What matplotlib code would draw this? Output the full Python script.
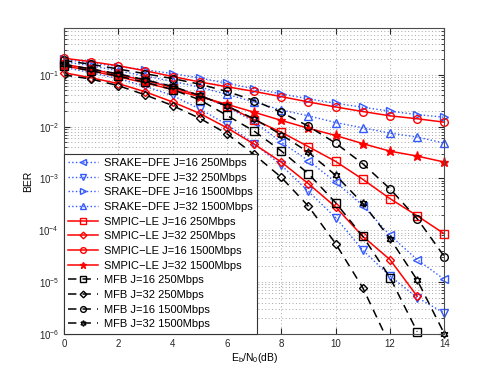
import numpy as np
import matplotlib
matplotlib.use("Agg")
import matplotlib.pyplot as plt

plt.rcParams['font.family'] = ['Liberation Sans', 'DejaVu Sans']
plt.rcParams['mathtext.fontset'] = 'custom'
plt.rcParams['mathtext.rm'] = 'Liberation Sans'
plt.rcParams['mathtext.it'] = 'Liberation Sans:italic'

# Eb/N0 (dB)
snr = np.arange(0, 15)

# SRAKE-DFE (blue dotted)
srake_j16_250 = [0.16, 0.13, 0.105, 0.08, 0.06, 0.04, 0.024, 0.0125, 5.0e-3, 2.2e-3,
                 8.5e-4, 3.0e-4, 8.0e-5, 2.7e-5, 1.12e-5]
srake_j32_250 = [0.14, 0.11, 0.085, 0.06, 0.04, 0.022, 0.011, 4.7e-3, 1.8e-3, 5.6e-4,
                 1.75e-4, 4.1e-5, 1.3e-5, 5.0e-6, 2.5e-6]
srake_j16_1500 = [0.2, 0.17, 0.145, 0.125, 0.106, 0.087, 0.069, 0.054, 0.043, 0.0344,
                  0.0283, 0.0237, 0.0199, 0.0171, 0.0152]
srake_j32_1500 = [0.18, 0.15, 0.12, 0.095, 0.075, 0.058, 0.042, 0.03, 0.021, 0.0162,
                  0.012, 9.5e-3, 7.5e-3, 6.3e-3, 4.8e-3]

# SMPIC-LE (red solid)
smpic_j16_250 = [0.16, 0.13, 0.1, 0.078, 0.057, 0.04, 0.025, 0.0136, 7.8e-3, 4.1e-3,
                 2.13e-3, 9.6e-4, 4.07e-4, 1.9e-4, 8.5e-5]
smpic_j32_250 = [0.11, 0.088, 0.068, 0.047, 0.03, 0.018, 9.5e-3, 4.6e-3, 2.07e-3, 7.9e-4,
                 2.8e-4, 7.6e-5, 2.7e-5, 5.3e-6]
smpic_j16_1500 = [0.21, 0.18, 0.15, 0.12, 0.093, 0.073, 0.059, 0.048, 0.038, 0.030,
                  0.024, 0.0196, 0.0162, 0.0142, 0.0122]
smpic_j32_1500 = [0.15, 0.12, 0.092, 0.07, 0.052, 0.038, 0.027, 0.019, 0.0132, 9.3e-3,
                  6.75e-3, 4.7e-3, 3.36e-3, 2.7e-3, 2.07e-3]

# MFB (black dashed)
mfb_j16_250 = [0.15, 0.12, 0.095, 0.072, 0.052, 0.033, 0.0165, 8.2e-3, 3.4e-3, 1.23e-3,
               3.4e-4, 7.6e-5, 1.22e-5, 1.1e-6]
mfb_j32_250 = [0.1, 0.083, 0.062, 0.041, 0.0255, 0.0145, 7.3e-3, 2.9e-3, 1.05e-3, 2.9e-4,
               5.5e-5, 7.7e-6, 6e-7]
mfb_j16_1500 = [0.19, 0.16, 0.13, 0.105, 0.085, 0.066, 0.048, 0.032, 0.019, 0.0102,
                4.8e-3, 1.92e-3, 6.3e-4, 1.67e-4, 3.1e-5]
mfb_j32_1500 = [0.16, 0.13, 0.105, 0.08, 0.06, 0.04, 0.025, 0.0142, 7.0e-3, 3.2e-3,
                1.15e-3, 3.3e-4, 6.9e-5, 1.09e-5, 1.0e-6]

labels = ['SRAKE\u2212DFE J=16 250Mbps', 'SRAKE\u2212DFE J=32 250Mbps',
          'SRAKE\u2212DFE J=16 1500Mbps', 'SRAKE\u2212DFE J=32 1500Mbps',
          'SMPIC\u2212LE J=16 250Mbps', 'SMPIC\u2212LE J=32 250Mbps',
          'SMPIC\u2212LE J=16 1500Mbps', 'SMPIC\u2212LE J=32 1500Mbps',
          'MFB J=16 250Mbps', 'MFB J=32 250Mbps',
          'MFB J=16 1500Mbps', 'MFB J=32 1500Mbps']

blue = (0.2, 0.35, 1.0)
red = (1.0, 0.0, 0.0)
hexagram = (6, 1, 0)

series = [
    (srake_j16_250, blue, ':', '<', 'none'),
    (srake_j32_250, blue, ':', 'v', 'none'),
    (srake_j16_1500, blue, ':', '>', 'none'),
    (srake_j32_1500, blue, ':', '^', 'none'),
    (smpic_j16_250, red, '-', 's', 'none'),
    (smpic_j32_250, red, '-', 'D', 'none'),
    (smpic_j16_1500, red, '-', 'o', 'none'),
    (smpic_j32_1500, red, '-', '*', red),
    (mfb_j16_250, 'k', '--', 's', 'none'),
    (mfb_j32_250, 'k', '--', 'D', 'none'),
    (mfb_j16_1500, 'k', '--', 'o', 'none'),
    (mfb_j32_1500, 'k', '--', hexagram, 'none'),
]

fig = plt.figure(figsize=(4.91, 3.75), dpi=100)
ax = fig.add_axes([0.13, 0.11, 0.775, 0.815])

for (vals, col, ls, mk, mfc), lab in zip(series, labels):
    ms = 6.5 if mk == '*' else (4.5 if mk == 'D' else 5.5)
    clip = len(vals) == 13  # the MFB J=32 250 curve leaves through the bottom
    line, = ax.semilogy(snr[:len(vals)], vals, color=col, linestyle=ls, marker=mk,
                        markersize=ms, markerfacecolor=mfc, markeredgecolor=col,
                        markeredgewidth=1.0, linewidth=1.1 if ls != ':' else 1.0,
                        label=lab, clip_on=clip)
    if ls == '--':
        line.set_dashes((5.5, 4))

ax.set_xlim(0, 14)
ax.set_ylim(1e-6, 0.8)
ax.set_xticks(range(0, 15, 2))
ax.set_yticks([1e-6, 1e-5, 1e-4, 1e-3, 1e-2, 1e-1])

ax.grid(True, which='major', linestyle=(0, (1, 2.5)), color='0.65', linewidth=0.7)
ax.grid(True, which='minor', axis='y', linestyle=(0, (1, 2.5)), color='0.65', linewidth=0.7)
ax.tick_params(which='both', direction='in', top=True, right=True, labelsize=7,
               colors='0.15')
ax.tick_params(which='major', length=4)
ax.tick_params(which='minor', length=2)
for sp in ax.spines.values():
    sp.set_color('0.3')

ax.set_xlabel(r'E$_\mathrm{b}$/N$_0$(dB)', fontsize=7.5, labelpad=2)
ax.set_ylabel('BER', fontsize=7.5, labelpad=4)

leg = ax.legend(loc='lower left', bbox_to_anchor=(0, 0), borderaxespad=0,
                fontsize=8, numpoints=1, markerscale=0.75, handlelength=2.7,
                handletextpad=0.5, labelspacing=0.42, borderpad=0.4,
                fancybox=False, framealpha=1)
leg.get_frame().set_edgecolor('0.2')
leg.get_frame().set_linewidth(0.8)

fig.savefig('out.png', dpi=100)
